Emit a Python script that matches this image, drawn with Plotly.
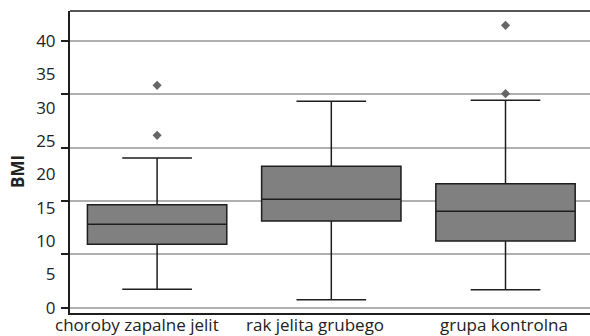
import plotly.graph_objects as go

categories = ["choroby zapalne jelit", "rak jelita grubego", "grupa kontrolna"]
lower_whisker = [2.75, 1.2, 2.7]
q1_vals = [9.5, 13.0, 10.0]
median_vals = [12.5, 16.25, 14.45]
q3_vals = [15.45, 21.2, 18.6]
upper_whisker = [22.45, 30.95, 31.1]
outlier_x = ["choroby zapalne jelit", "choroby zapalne jelit", "grupa kontrolna", "grupa kontrolna"]
outlier_y = [33.35, 25.85, 42.35, 32.1]
grid_ticks = [0, 8, 16, 24, 32, 40]
label_ticks = [0, 5, 10, 15, 20, 25, 30, 35, 40]
label_shift = [-20, -16, -2]

dark = "#1e1e1e"
fnt = "Open Sans"

fig = go.Figure()
fig.add_trace(go.Box(
    x=categories, q1=q1_vals, median=median_vals, q3=q3_vals,
    lowerfence=lower_whisker, upperfence=upper_whisker,
    fillcolor="#808080", line=dict(color=dark, width=1.5),
    whiskerwidth=0.5, boxpoints=False, showlegend=False, hoverinfo="skip"))
fig.add_trace(go.Scatter(
    x=outlier_x, y=outlier_y, mode="markers",
    marker=dict(symbol="diamond", size=7, color="#666666"),
    showlegend=False, hoverinfo="skip"))
# invisible trace for label axis
fig.add_trace(go.Scatter(x=[categories[0]], y=[0], yaxis="y2", mode="markers",
                         marker=dict(opacity=0), showlegend=False, hoverinfo="skip"))

yrange = [-0.8, 44.5]
fig.update_layout(
    width=590, height=336,
    margin=dict(l=70, r=0, t=11, b=23),
    paper_bgcolor="white", plot_bgcolor="white",
    boxgap=0.2, boxgroupgap=0,
    xaxis=dict(range=[-0.5, 2.485], showticklabels=False, ticks="",
               showline=True, linecolor=dark, linewidth=2, showgrid=False,
               zeroline=False),
    yaxis=dict(range=yrange, tickvals=grid_ticks, showticklabels=False,
               ticks="outside", ticklen=7, tickwidth=1.5, tickcolor=dark,
               showgrid=True, gridcolor="#b0b0b0", gridwidth=1.5,
               showline=True, linecolor=dark, linewidth=2, zeroline=False),
    yaxis2=dict(range=yrange, overlaying="y", side="left", tickvals=label_ticks,
                ticks="outside", ticklen=10, tickcolor="rgba(0,0,0,0)",
                showgrid=False, showline=False, zeroline=False,
                tickfont=dict(family=fnt, size=17, color="#222222")),
    shapes=[dict(type="line", xref="paper", yref="paper", x0=0, x1=1, y0=1, y1=1,
                 line=dict(color=dark, width=1.5))],
)

for i, c in enumerate(categories):
    fig.add_annotation(x=c, xref="x", y=0, yref="paper", yanchor="bottom",
                       yshift=-25, xshift=label_shift[i], text=c, showarrow=False,
                       font=dict(family=fnt, size=17, color="#222222"))

fig.add_annotation(x=-53 / 520, xref="paper", xanchor="center", y=0.5, yref="paper",
                   yshift=-10, text="<b>BMI</b>", textangle=-90, showarrow=False,
                   font=dict(family=fnt, size=17, color="#222222"))

fig.write_html("out.html")
